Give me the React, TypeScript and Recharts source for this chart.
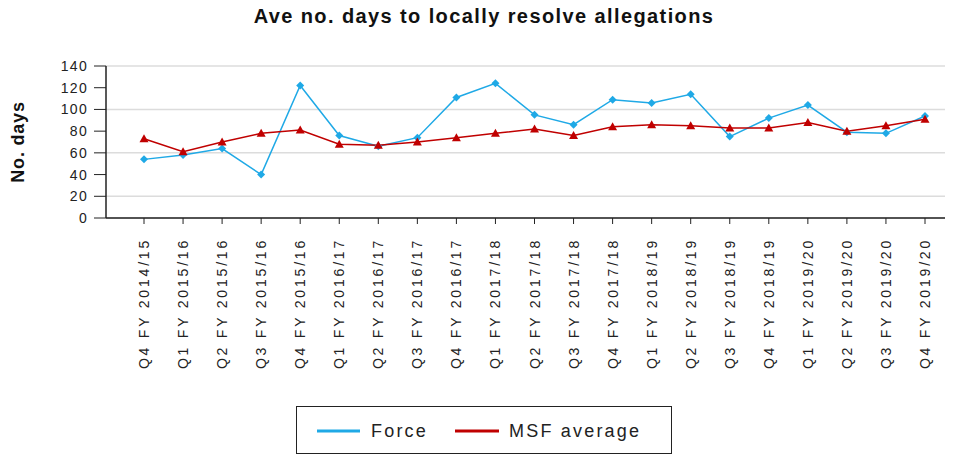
import React from "react";
import { LineChart, Line, XAxis, YAxis, CartesianGrid } from "recharts";

// quarters shown on the x axis
const quarters = [
  "Q4 FY 2014/15",
  "Q1 FY 2015/16",
  "Q2 FY 2015/16",
  "Q3 FY 2015/16",
  "Q4 FY 2015/16",
  "Q1 FY 2016/17",
  "Q2 FY 2016/17",
  "Q3 FY 2016/17",
  "Q4 FY 2016/17",
  "Q1 FY 2017/18",
  "Q2 FY 2017/18",
  "Q3 FY 2017/18",
  "Q4 FY 2017/18",
  "Q1 FY 2018/19",
  "Q2 FY 2018/19",
  "Q3 FY 2018/19",
  "Q4 FY 2018/19",
  "Q1 FY 2019/20",
  "Q2 FY 2019/20",
  "Q3 FY 2019/20",
  "Q4 FY 2019/20",
];

const force = [54, 58, 64, 40, 122, 76, 66, 74, 111, 124, 95, 86, 109, 106, 114, 75, 92, 104, 79, 78, 94];
const msfAverage = [73, 61, 70, 78, 81, 68, 67, 70, 74, 78, 82, 76, 84, 86, 85, 83, 83, 88, 80, 85, 91];

const yTicks = [0, 20, 40, 60, 80, 100, 120, 140];

const FORCE_COLOR = "#1fa9e6";
const MSF_COLOR = "#c00000";
const FONT = "'Liberation Sans', Arial, sans-serif";

const data = quarters.map((q, i) => ({ name: q, force: force[i], msf: msfAverage[i] }));

const DiamondDot = (props: any) => {
  const { cx, cy } = props;
  if (cx == null || cy == null) return null;
  const s = 4;
  return <path d={`M${cx},${cy - s}L${cx + s},${cy}L${cx},${cy + s}L${cx - s},${cy}Z`} fill={FORCE_COLOR} />;
};

const TriangleDot = (props: any) => {
  const { cx, cy } = props;
  if (cx == null || cy == null) return null;
  return <path d={`M${cx},${cy - 4.5}L${cx + 4.5},${cy + 3.5}L${cx - 4.5},${cy + 3.5}Z`} fill={MSF_COLOR} />;
};

const XTick = (props: any) => {
  const { x, y, payload } = props;
  return (
    <g transform={`translate(${x},${y})`}>
      <text
        transform="rotate(-90)"
        x={-12}
        y={5}
        textAnchor="end"
        fontSize={14}
        letterSpacing={2.8}
        fill="#222"
        fontFamily={FONT}
      >
        {payload.value}
      </text>
    </g>
  );
};

export default function App() {
  return (
    <div style={{ position: "fixed", left: 0, top: 0, width: 957, height: 455, background: "#fff", fontFamily: FONT }}>
      <div
        style={{
          position: "absolute",
          left: 0,
          width: 968,
          top: 5,
          textAlign: "center",
          fontSize: 20,
          fontWeight: "bold",
          letterSpacing: 1.4,
          color: "#111",
        }}
      >
        Ave no. days to locally resolve allegations
      </div>
      <div
        style={{
          position: "absolute",
          left: 18,
          top: 142,
          transform: "translate(-50%,-50%) rotate(-90deg)",
          fontSize: 18,
          fontWeight: "bold",
          letterSpacing: 0.8,
          whiteSpace: "nowrap",
          color: "#111",
        }}
      >
        No. days
      </div>

      <LineChart width={957} height={455} data={data} margin={{ top: 66, right: 12, bottom: 77, left: 0 }}>
        <CartesianGrid horizontal vertical={false} stroke="#dcdcdc" strokeWidth={1.5} />
        <XAxis
          dataKey="name"
          interval={0}
          height={160}
          padding={{ left: 38, right: 20 }}
          tick={<XTick />}
          tickSize={6}
          stroke="#222"
          axisLine={{ stroke: "#222", strokeWidth: 1.5 }}
          tickLine={{ stroke: "#222" }}
        />
        <YAxis
          domain={[0, 140]}
          ticks={yTicks}
          width={106}
          tickSize={12}
          tickMargin={6}
          stroke="#222"
          axisLine={{ stroke: "#222", strokeWidth: 1.5 }}
          tick={{ fontSize: 14, fill: "#222", letterSpacing: 1.3, fontFamily: FONT }}
        />
        <Line
          type="linear"
          dataKey="force"
          stroke={FORCE_COLOR}
          strokeWidth={1.5}
          dot={<DiamondDot />}
          activeDot={false}
          isAnimationActive={false}
        />
        <Line
          type="linear"
          dataKey="msf"
          stroke={MSF_COLOR}
          strokeWidth={1.5}
          dot={<TriangleDot />}
          activeDot={false}
          isAnimationActive={false}
        />
      </LineChart>

      <div
        style={{
          position: "absolute",
          left: 296,
          top: 406,
          width: 376,
          height: 48,
          boxSizing: "border-box",
          border: "1.5px solid #222",
        }}
      >
        <svg width={376} height={48} style={{ position: "absolute", left: 0, top: 0 }}>
          <line x1={20} x2={63} y1={24} y2={24} stroke={FORCE_COLOR} strokeWidth={3} />
          <line x1={158} x2={202} y1={24} y2={24} stroke={MSF_COLOR} strokeWidth={3} />
          <text x={74} y={30} fontSize={18} letterSpacing={2.2} fill="#222" fontFamily={FONT}>
            Force
          </text>
          <text x={212} y={30} fontSize={18} letterSpacing={2.2} fill="#222" fontFamily={FONT}>
            MSF average
          </text>
        </svg>
      </div>
    </div>
  );
}
